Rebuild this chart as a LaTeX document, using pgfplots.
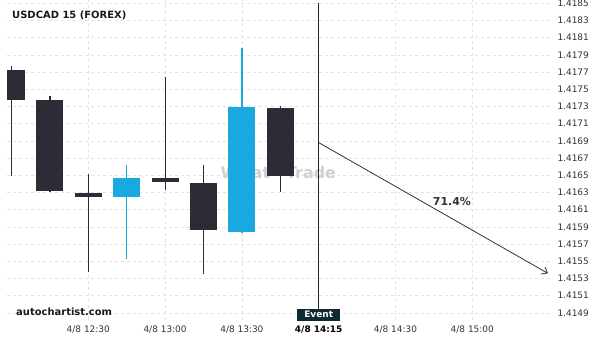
\documentclass[border=0pt]{standalone}
\usepackage{fontspec}
\setmainfont{DejaVu Sans}
\usepackage{pgfplots}
\usepackage{pgfplotstable}
\pgfplotsset{compat=1.18}
\usetikzlibrary{arrows.meta}
\definecolor{bearcol}{HTML}{2B2C36}
\definecolor{bullcol}{HTML}{19A8E0}
\definecolor{eventcol}{HTML}{0E2B31}
\definecolor{gridcol}{HTML}{E2E2E2}
\definecolor{labcol}{HTML}{333333}

\pgfplotstableread{
x open close high low
0 1.41772 1.41738 1.41777 1.41649
1 1.41738 1.41632 1.41742 1.41630
2 1.41629 1.41625 1.41652 1.41537
4 1.41647 1.41642 1.41764 1.41633
5 1.41641 1.41586 1.41662 1.41535
7 1.41728 1.41649 1.41731 1.41631
}\bear
\pgfplotstableread{
x open close high low
3 1.41625 1.41647 1.41662 1.41553
6 1.41584 1.41729 1.41798 1.41583
}\bull

\pgfplotsset{candle/.style={only marks, mark=*, mark size=0pt, mark options={draw=none, fill=none},
  error bars/.cd, y dir=plus, y explicit, error mark=none}}

\begin{document}
\begin{tikzpicture}
\useasboundingbox (0bp,0bp) rectangle (600bp,340bp);
\begin{axis}[
  at={(7bp,20bp)}, anchor=south west,
  scale only axis, width=546bp, height=320bp,
  xmin=-0.1172, xmax=14.1016,
  ymin=1.4148174, ymax=1.4185384,
  axis line style={draw=none},
  major tick length=0pt,
  clip mode=individual,
  xtick={2,4,6,8,10,12},
  xticklabels={4/8 12:30,4/8 13:00,4/8 13:30,{\bfseries\color{black}4/8 14:15},4/8 14:30,4/8 15:00},
  ytick={1.4149,1.4151,1.4153,1.4155,1.4157,1.4159,1.4161,1.4163,1.4165,1.4167,1.4169,1.4171,1.4173,1.4175,1.4177,1.4179,1.4181,1.4183,1.4185},
  yticklabel pos=right,
  yticklabel style={/pgf/number format/.cd, fixed, fixed zerofill, precision=4, /tikz/.cd, anchor=west, xshift=1bp},
  /pgf/number format/assume math mode=true,
  tick label style={font=\fontsize{9}{10}\selectfont, text=labcol},
  xticklabel style={yshift=-2bp},
  grid=major,
  major grid style={gridcol, line width=0.6bp, dash pattern=on 3bp off 3bp},
]
% watermark
\node[text=black!18, font=\bfseries\fontsize{16}{16}\selectfont] at (axis cs:6.95,1.41653) {Wh\hspace{2bp}at\hspace{16bp}Trade};
% wicks
\addplot[candle, error bar style={line width=1.2bp, bearcol}]
  table[x=x, y=low, y error plus expr={\thisrow{high}-\thisrow{low}}] {\bear};
\addplot[candle, error bar style={line width=1.2bp, bullcol}]
  table[x=x, y=low, y error plus expr={\thisrow{high}-\thisrow{low}}] {\bull};
% bodies
\addplot[candle, error bar style={line width=27bp, bearcol}]
  table[x=x, y=close, y error plus expr={\thisrow{open}-\thisrow{close}}] {\bear};
\addplot[candle, error bar style={line width=27bp, bullcol}]
  table[x=x, y=open, y error plus expr={\thisrow{close}-\thisrow{open}}] {\bull};
% event line
\addplot[eventcol, line width=1.3bp] coordinates {(8,1.41850) (8,1.41494)};
% forecast arrow
\addplot[labcol, line width=0.8bp, -{Straight Barb[length=5bp,width=8bp]}] coordinates {(8,1.41688) (13.97,1.41536)};
\node[text=labcol, font=\bfseries\fontsize{11}{11}\selectfont] at (axis cs:11.47,1.41619) {71.4\%};
\node[fill=eventcol, text=white, font=\bfseries\fontsize{9}{9}\selectfont, minimum width=43bp, minimum height=12bp, inner sep=0pt] at (axis cs:8,1.414881) {Event};
\end{axis}
\node[anchor=west, font=\bfseries\fontsize{10}{10}\selectfont, text=black!90] at (8.7bp,325bp) {USDCAD 15 (FOREX)};
\node[anchor=west, font=\bfseries\fontsize{10}{10}\selectfont, text=black!90] at (12.7bp,28bp) {autochartist.com};
\end{tikzpicture}
\end{document}
